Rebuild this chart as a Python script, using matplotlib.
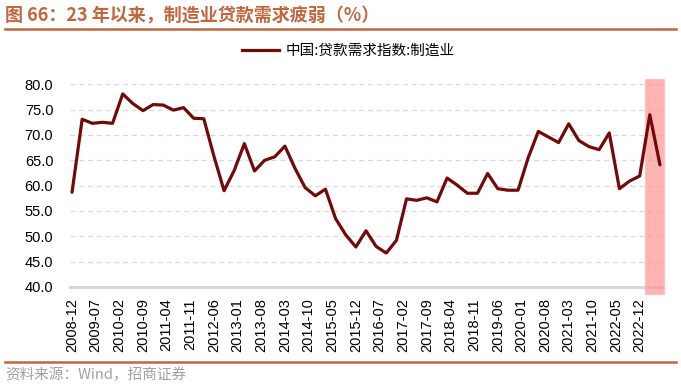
import matplotlib
matplotlib.use("Agg")
import matplotlib.pyplot as plt
from matplotlib.patches import Rectangle
from matplotlib.lines import Line2D
import matplotlib.transforms as mtransforms

# ---- data ----
quarters = [
    "2008-12", "2009-03", "2009-06", "2009-09", "2009-12",
    "2010-03", "2010-06", "2010-09", "2010-12",
    "2011-03", "2011-06", "2011-09", "2011-12",
    "2012-03", "2012-06", "2012-09", "2012-12",
    "2013-03", "2013-06", "2013-09", "2013-12",
    "2014-03", "2014-06", "2014-09", "2014-12",
    "2015-03", "2015-06", "2015-09", "2015-12",
    "2016-03", "2016-06", "2016-09", "2016-12",
    "2017-03", "2017-06", "2017-09", "2017-12",
    "2018-03", "2018-06", "2018-09", "2018-12",
    "2019-03", "2019-06", "2019-09", "2019-12",
    "2020-03", "2020-06", "2020-09", "2020-12",
    "2021-03", "2021-06", "2021-09", "2021-12",
    "2022-03", "2022-06", "2022-09", "2022-12",
    "2023-03", "2023-06",
]
loan_demand_mfg = [
    58.7, 73.1, 72.3, 72.5, 72.3,
    78.1, 76.2, 74.8, 76.0,
    75.9, 74.9, 75.4, 73.3,
    73.2, 65.8, 59.0, 63.0,
    68.3, 62.9, 65.0, 65.7,
    67.8, 63.4, 59.6, 58.0,
    59.3, 53.5, 50.3, 47.9,
    51.1, 48.0, 46.7, 49.2,
    57.4, 57.1, 57.6, 56.8,
    61.5, 60.1, 58.5, 58.5,
    62.4, 59.4, 59.1, 59.1,
    65.5, 70.7, 69.6, 68.5,
    72.2, 68.9, 67.7, 67.1,
    70.4, 59.4, 60.9, 61.9,
    74.0, 64.1,
]
tick_labels = [
    "2008-12", "2009-07", "2010-02", "2010-09", "2011-04", "2011-11",
    "2012-06", "2013-01", "2013-08", "2014-03", "2014-10", "2015-05",
    "2015-12", "2016-07", "2017-02", "2017-09", "2018-04", "2018-11",
    "2019-06", "2020-01", "2020-08", "2021-03", "2021-10", "2022-05",
    "2022-12",
]
series_name = "中国:贷款需求指数:制造业"
title_text = "图 66：23 年以来，制造业贷款需求疲弱（%）"
source_text = "资料来源：Wind，招商证券"
highlight_start, highlight_end = "2023-01", "2023-07"


def month_index(s):
    y, m = s.split("-")
    return (int(y) - 2008) * 12 + int(m) - 12


x_vals = [month_index(q) for q in quarters]
tick_pos = [month_index(t) for t in tick_labels]

plt.rcParams['font.family'] = ['Liberation Sans', 'Noto Sans CJK SC', 'DejaVu Sans']

fig = plt.figure(figsize=(6.81, 3.84), dpi=100)
ax = fig.add_axes([70 / 681, 1 - 287 / 384, (663 - 70) / 681, (287 - 84.3) / 384])

line_color = "#730A0A"
ax.plot(x_vals, loan_demand_mfg, color=line_color, lw=2.3, zorder=5,
        solid_joinstyle="round", solid_capstyle="round")

ax.set_ylim(40, 80)
ax.set_xlim(-0.6, 174.9)
ax.set_yticks([40 + 5 * i for i in range(9)])
ax.set_yticklabels([f"{40 + 5 * i:.1f}" for i in range(9)])
ax.set_xticks(tick_pos)
ax.set_xticklabels(tick_labels, rotation=90)
ax.tick_params(axis="both", length=0, labelsize=10.5, colors="black")
ax.tick_params(axis="y", pad=12)
ax.tick_params(axis="x", pad=8)
for lbl in ax.get_xticklabels() + ax.get_yticklabels():
    lbl.set_fontfamily(['Liberation Sans', 'DejaVu Sans'])

for sp in ["top", "right", "left"]:
    ax.spines[sp].set_visible(False)
ax.spines["bottom"].set_color("#D4D4D4")
ax.spines["bottom"].set_linewidth(2.0)

ax.yaxis.grid(True, color="#D9D9D9", linestyle=(0, (4, 3)), lw=0.9)
ax.set_axisbelow(True)

# highlight rectangle
trans = mtransforms.blended_transform_factory(ax.transData, ax.transAxes)
x0 = month_index(highlight_start) + 0.5
x1 = month_index(highlight_end) + 0.3
rect = Rectangle((x0, -0.035), x1 - x0, 1.062, transform=trans,
                 facecolor="#FF9494", alpha=0.7, edgecolor="#FFB8B8",
                 lw=1.0, clip_on=False, zorder=3)
ax.add_patch(rect)

# legend
handle = Line2D([], [], color=line_color, lw=2.3)
fig.legend([handle], [series_name], loc="center", bbox_to_anchor=(348 / 681, 1 - 51 / 384),
           frameon=False, handlelength=2.6, handletextpad=0.4,
           prop={"family": ["Noto Sans CJK SC"], "size": 10.5})

# title and rules
title_color = "#C0673F"
fig.text(5 / 681, 1 - 16 / 384, title_text, color=title_color, fontsize=13,
         fontweight="bold", family=["Noto Sans CJK SC", "DejaVu Sans"],
         ha="left", va="center")
fig.add_artist(Line2D([5 / 681, 676 / 681], [1 - 29 / 384, 1 - 29 / 384],
                      color=title_color, lw=1.8))
fig.add_artist(Line2D([5 / 681, 676 / 681], [1 - 362 / 384, 1 - 362 / 384],
                      color=title_color, lw=1.8))
fig.text(5 / 681, 1 - 375 / 384, source_text, color="#A0A0A0", fontsize=10.5,
         family=["Noto Sans CJK SC", "DejaVu Sans"], ha="left", va="center")

fig.savefig("out.png", dpi=100)
